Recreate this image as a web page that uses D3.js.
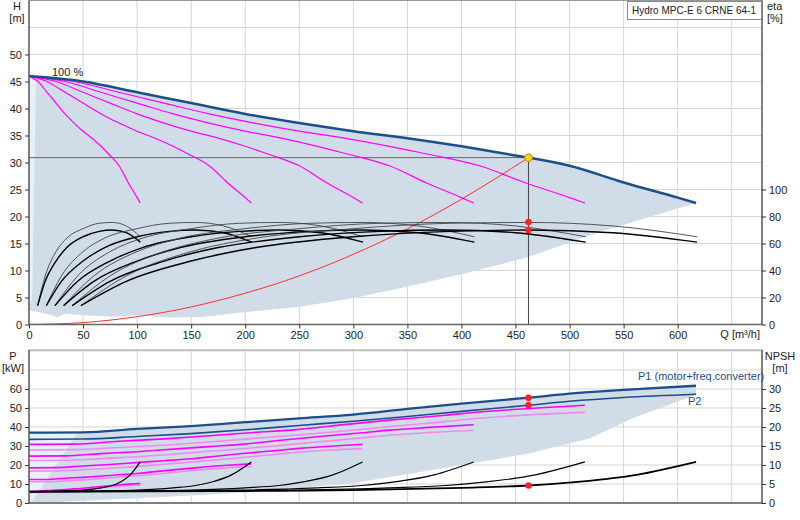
<!DOCTYPE html>
<html><head><meta charset="utf-8">
<script src="https://cdn.jsdelivr.net/npm/d3@7"></script>
<style>body{margin:0;background:#fff}text{font-family:"Liberation Sans",Arial,sans-serif;font-size:11px;fill:#222}</style>
</head><body><svg id="c" width="800" height="520"></svg>
<script>
// ---- data ----
const pumpCounts=[1,2,3,4,5,6];
const hQ=[0,50,100,150,200,250,300,350,400,450,462,500,550,600,617];
const hH=[46,45,43,41,39,37.3,35.8,34.5,33,31.3,30.9,29.4,26.3,23.5,22.5];
const etaQ1=[8,15,25,35,50,65,77,90,103];
const etaPump1=[14,36,54,64,71,75,75.6,73,65];
const etaTot1=[14,32,47,57,65,69,70,68,61];
const sysQ=[0,50,100,150,200,250,300,350,400,462];
const sysH=[0,0.35,1.45,3.25,5.8,9.0,13.0,17.7,23.2,30.9];
const pQ=[0,50,100,150,200,250,300,350,400,462,500,550,617];
const p1=[37,37.2,39,40.5,42.5,44.5,46.5,49.5,52.3,55.4,57.5,59.5,61.7];
const p2=[33.5,33.7,35,36.5,38.5,40.8,43,45.5,48.2,51.4,53.5,55.5,57.2];
const nQ=[0,100,200,300,400,462,510,562,617];
const npsh=[3.0,3.05,3.15,3.4,4.0,4.6,5.6,7.4,10.8];
const dutyQ=462, dutyH=30.9, dutyEtaP=76, dutyEtaT=70, dutyP1=55.4, dutyP2=51.4, dutyN=4.6;
const shadeTopLow=[[617,22.5],[525,17],[462,12.5],[400,9.3],[343,6.7],[300,4.9],[250,3.3],[200,2.3],[160,1.4],[130,1.3],[100,1.7],[80,1.5],[60,1.6],[32,2.0],[27,1.3],[20,1.8],[0,2.7]];
const shadeTopLeft=[[0,2.7],[3,5],[6.5,45.5]];
const shadePLow=[[617,57],[560,45],[518,34],[462,26],[400,20],[300,10.5],[200,5.5],[100,2.5],[2,0]];
const hTicks=[0,5,10,15,20,25,30,35,40,45,50];
const etaTicks=[0,20,40,60,80,100];
const qTicks=[0,50,100,150,200,250,300,350,400,450,500,550,600];
const pTicks=[0,10,20,30,40,50,60];
const nTicks=[0,5,10,15,20,25,30];

// ---- scales ----
const svg=d3.select("#c");
const L=29,R=762;
const x=d3.scaleLinear([0,678],[L,R]);
const yH=d3.scaleLinear([0,60],[324.5,0.5]);
const yE=d3.scaleLinear([0,240],[324.5,0.5]);
const yP=d3.scaleLinear([0,80.5],[503,350]);
const yN=d3.scaleLinear([0,40.25],[503,350]);
const zip=(a,b,sx=1,sy=1)=>a.map((v,i)=>[v*sx,b[i]*sy]);
const line=(ys)=>d3.line().x(d=>x(d[0])).y(d=>ys(d[1])).curve(d3.curveMonotoneX);
const poly=(ys)=>d3.line().x(d=>x(d[0])).y(d=>ys(d[1]));

// grids
const gT=svg.append("g");
d3.range(0,61,5).forEach(v=>gT.append("line").attr("x1",L).attr("x2",R).attr("y1",yH(v)).attr("y2",yH(v)).attr("stroke","#d4d4d4"));
d3.range(50,678,50).forEach(v=>gT.append("line").attr("x1",x(v)).attr("x2",x(v)).attr("y1",0.5).attr("y2",324.5).attr("stroke","#d4d4d4"));
d3.range(10,81,10).forEach(v=>gT.append("line").attr("x1",L).attr("x2",R).attr("y1",yP(v)).attr("y2",yP(v)).attr("stroke","#d4d4d4"));
d3.range(50,678,50).forEach(v=>gT.append("line").attr("x1",x(v)).attr("x2",x(v)).attr("y1",350).attr("y2",503).attr("stroke","#d4d4d4"));

// top shading
const topCurve=zip(hQ,hH);
svg.append("path").attr("d",poly(yH)([...topCurve,...shadeTopLow])+"Z").attr("fill","#e8eff7");
svg.append("path").attr("d",poly(yH)([[6.5,45.5],...topCurve.slice(1),...shadeTopLow.slice(0,-1),...shadeTopLeft.slice(0,-1)])+"Z").attr("fill","#d0dce8");
// bottom shading
const p1c=zip(pQ,p1);
svg.append("path").attr("d",poly(yP)([[0,0],...p1c,...shadePLow])+"Z").attr("fill","#e8eff7");
svg.append("path").attr("d",poly(yP)([[45,37.1],...p1c.slice(2),...shadePLow])+"Z").attr("fill","#d0dce8");

// system curve & duty lines
svg.append("path").attr("d",line(yH)(zip(sysQ,sysH))).attr("fill","none").attr("stroke","#ff3030").attr("stroke-width",1);
svg.append("line").attr("x1",L).attr("x2",x(dutyQ)).attr("y1",yH(dutyH)).attr("y2",yH(dutyH)).attr("stroke","#666");
svg.append("line").attr("x1",x(dutyQ)).attr("x2",x(dutyQ)).attr("y1",yH(dutyH)).attr("y2",324.5).attr("stroke","#444");

// magenta H curves (partial pump counts)
pumpCounts.slice(0,5).forEach(n=>{
  svg.append("path").attr("d",line(yH)(zip(hQ,hH,n/6))).attr("fill","none").attr("stroke","#ff00ff").attr("stroke-width",1.2);
});
// efficiency curves
pumpCounts.forEach(n=>{
  svg.append("path").attr("d",line(yE)(zip(etaQ1,etaPump1,n))).attr("fill","none").attr("stroke","#444").attr("stroke-width",0.9);
  svg.append("path").attr("d",line(yE)(zip(etaQ1,etaTot1,n))).attr("fill","none").attr("stroke","#000").attr("stroke-width",1.4);
});
svg.append("path").attr("d",line(yH)(topCurve)).attr("fill","none").attr("stroke","#1b4f8a").attr("stroke-width",2.5);

// bottom magenta lines
pumpCounts.slice(0,5).forEach(n=>{
  svg.append("path").attr("d",line(yP)(zip(pQ,p2,n/6,n/6))).attr("fill","none").attr("stroke","#f08cf0").attr("stroke-width",1.6);
  svg.append("path").attr("d",line(yP)(zip(pQ,p1,n/6,n/6))).attr("fill","none").attr("stroke","#ff00ff").attr("stroke-width",1.6);
});
// NPSH
pumpCounts.forEach(n=>{
  svg.append("path").attr("d",line(yN)(zip(nQ,npsh,n/6))).attr("fill","none").attr("stroke","#000").attr("stroke-width",n==6?1.8:1.2);
});
svg.append("path").attr("d",line(yP)(zip(pQ,p2))).attr("fill","none").attr("stroke","#1b4f8a").attr("stroke-width",1.6);
svg.append("path").attr("d",line(yP)(p1c)).attr("fill","none").attr("stroke","#1b4f8a").attr("stroke-width",2.3);

// duty points
const dot=(cx,cy,f,r)=>svg.append("circle").attr("cx",cx).attr("cy",cy).attr("r",r).attr("fill",f);
dot(x(dutyQ),yE(dutyEtaP),"#ff2020",3.2);
dot(x(dutyQ),yE(dutyEtaT),"#ff2020",3.2);
svg.append("circle").attr("cx",x(dutyQ)).attr("cy",yH(dutyH)).attr("r",3.8).attr("fill","#ffd020").attr("stroke","#e08000");
dot(x(dutyQ),yP(dutyP1),"#ff2020",3.2);
dot(x(dutyQ),yP(dutyP2),"#ff2020",3.2);
dot(x(dutyQ),yN(dutyN),"#ff2020",3.2);

// frames & axes
svg.append("rect").attr("x",L).attr("y",0.5).attr("width",R-L).attr("height",324).attr("fill","none").attr("stroke","#999");
svg.append("rect").attr("x",L).attr("y",350).attr("width",R-L).attr("height",153).attr("fill","none").attr("stroke","#999");
[[324.5],[503]].forEach(([yy])=>svg.append("line").attr("x1",L).attr("x2",R).attr("y1",yy).attr("y2",yy).attr("stroke","#666").attr("stroke-width",1.5));
[L,R].forEach(xx=>{svg.append("line").attr("x1",xx).attr("x2",xx).attr("y1",0.5).attr("y2",324.5).attr("stroke","#333");svg.append("line").attr("x1",xx).attr("x2",xx).attr("y1",350).attr("y2",503).attr("stroke","#333");});
const ax=(g,tr)=>{svg.append("g").attr("transform",tr).call(g).call(s=>{s.select(".domain").remove();s.selectAll("line").attr("stroke","#333");s.selectAll("text").style("font-size","11px").attr("fill","#222");});};
ax(d3.axisLeft(yH).tickValues(hTicks).tickSize(4),`translate(${L},0)`);
ax(d3.axisRight(yE).tickValues(etaTicks).tickSize(4),`translate(${R},0)`);
ax(d3.axisBottom(x).tickValues(qTicks).tickSize(4),`translate(0,324.5)`);
ax(d3.axisLeft(yP).tickValues(pTicks).tickSize(4),`translate(${L},0)`);
ax(d3.axisRight(yN).tickValues(nTicks).tickSize(4),`translate(${R},0)`);

const t=(s,xx,yy,a="start",c="#222")=>svg.append("text").attr("x",xx).attr("y",yy).attr("text-anchor",a).style("fill",c).text(s);
t("H",17,10,"middle");t("[m]",17,22,"middle");
t("eta",767,10);t("[%]",767,22);
t("Q [m³/h]",760,338,"end");
t("P",13,360,"middle");t("[kW]",13,372,"middle");
t("NPSH",780,360,"middle");t("[m]",780,372,"middle");
t("100 %",52,76);
t("P1 (motor+freq.converter)",638,380,"start","#1b4f8a");
t("P2",688,405,"start","#1b4f8a");
svg.append("rect").attr("x",627.5).attr("y",1.5).attr("width",134).attr("height",18).attr("fill","#fff").attr("stroke","#888");
t("Hydro MPC-E 6 CRNE 64-1",632,14).attr("textLength",124).attr("lengthAdjust","spacingAndGlyphs");
</script></body></html>
